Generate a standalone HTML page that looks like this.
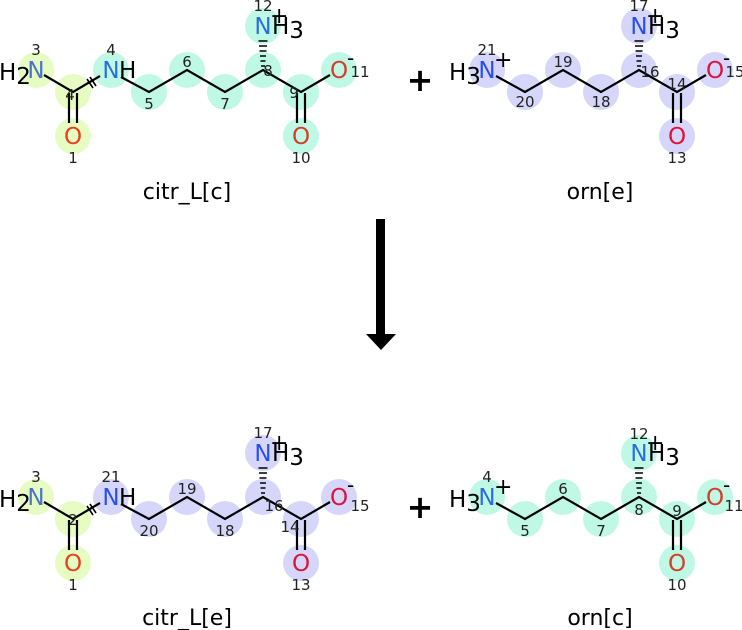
<!DOCTYPE html>
<html><head><meta charset="utf-8"><style>
html,body{margin:0;padding:0;background:#fff;}
svg{display:block;}
text{font-family:"DejaVu Sans","Liberation Sans",sans-serif;}
.n{font-size:15px;fill:#222;text-anchor:middle;}
.a{font-size:23px;text-anchor:middle;}
.h{font-size:23px;fill:#000;}
.b{stroke:#000;stroke-width:2.2;fill:none;}
.cap{font-size:22px;text-anchor:middle;fill:#000;}
</style></head><body>
<svg width="742" height="630" viewBox="0 0 742 630" xmlns="http://www.w3.org/2000/svg">
<!-- ===== TOP LEFT citr_L[c] ===== -->
<g>
<g fill="#e6fcc2"><circle cx="36" cy="70" r="18"/><circle cx="73" cy="92" r="18"/><circle cx="73" cy="136" r="18"/></g>
<g fill="#bff9e6"><circle cx="111" cy="70" r="18"/><circle cx="149" cy="92" r="18"/><circle cx="187" cy="70" r="18"/><circle cx="225" cy="92" r="18"/><circle cx="263" cy="70" r="18"/><circle cx="301" cy="92" r="18"/><circle cx="339" cy="70" r="18"/><circle cx="301" cy="136" r="18"/><circle cx="263" cy="26" r="18"/></g>
<path class="b" d="M44 75 L73 92 L100 76 M121 77 L149 92 L187 70 L225 92 L263 70 L301 92 L330 75 M69 93 V123 M77 93 V123 M297 93 V123 M305 93 V123"/>
<path stroke="#000" stroke-width="1.6" d="M87 79 L93 88 M90 77 L96 86"/>
<g stroke="#000" stroke-width="1.5"><line x1="261" y1="66" x2="265" y2="66"/><line x1="260.5" y1="61" x2="265.5" y2="61"/><line x1="260" y1="56" x2="266" y2="56"/><line x1="259.5" y1="51" x2="266.5" y2="51"/><line x1="259" y1="46" x2="267" y2="46"/><line x1="258.5" y1="41" x2="267.5" y2="41"/></g>
<text class="a" x="36" y="78" fill="#4a74cc">N</text><text class="h" x="-1" y="80">H<tspan dy="4">2</tspan></text>
<text class="a" x="111" y="78" fill="#2a6fe0">N</text><text class="h" x="119" y="78">H</text>
<text class="a" x="73" y="144" fill="#e8401c">O</text>
<text class="a" x="301" y="144" fill="#d0402a">O</text>
<text class="a" x="339" y="78" fill="#d0402a">O</text><text x="347" y="65" font-size="20" fill="#000">-</text>
<text class="a" x="263" y="34" fill="#2a6fe0">N</text><text class="h" x="272" y="34">H<tspan dy="4">3</tspan></text><text x="270" y="23" font-size="22" fill="#000">+</text>
<text class="n" x="36" y="55">3</text><text class="n" x="111" y="55">4</text><text class="n" x="70" y="100">4</text>
<text class="n" x="149" y="109">5</text><text class="n" x="187" y="67">6</text><text class="n" x="225" y="109">7</text>
<text class="n" x="268" y="76">8</text><text class="n" x="294" y="98">9</text><text class="n" x="360" y="77">11</text>
<text class="n" x="301" y="163">10</text><text class="n" x="73" y="163">1</text><text class="n" x="263" y="11">12</text>
</g>
<text class="cap" x="187" y="199">citr_L[c]</text>
<text x="420" y="91" font-size="32" font-weight="bold" text-anchor="middle">+</text>
<!-- ===== TOP RIGHT orn[e] ===== -->
<g>
<g fill="#d6d6fa"><circle cx="487" cy="70" r="18"/><circle cx="525" cy="92" r="18"/><circle cx="563" cy="70" r="18"/><circle cx="601" cy="92" r="18"/><circle cx="639" cy="70" r="18"/><circle cx="677" cy="92" r="18"/><circle cx="715" cy="70" r="18"/><circle cx="677" cy="136" r="18"/><circle cx="639" cy="26" r="18"/></g>
<path class="b" d="M496 76 L525 92 L563 70 L601 92 L639 70 L677 92 L706 75 M673 93 V123 M681 93 V123"/>
<g stroke="#000" stroke-width="1.5"><line x1="637" y1="66" x2="641" y2="66"/><line x1="636.5" y1="61" x2="641.5" y2="61"/><line x1="636" y1="56" x2="642" y2="56"/><line x1="635.5" y1="51" x2="642.5" y2="51"/><line x1="635" y1="46" x2="643" y2="46"/><line x1="634.5" y1="41" x2="643.5" y2="41"/></g>
<text class="a" x="487" y="78" fill="#2a4ff0">N</text><text class="h" x="449" y="80">H<tspan dy="4">3</tspan></text><text x="494" y="67" font-size="22" fill="#000">+</text>
<text class="a" x="677" y="144" fill="#dc143c">O</text>
<text class="a" x="715" y="78" fill="#dc143c">O</text><text x="723" y="65" font-size="20" fill="#000">-</text>
<text class="a" x="639" y="34" fill="#2a4ff0">N</text><text class="h" x="648" y="34">H<tspan dy="4">3</tspan></text><text x="646" y="23" font-size="22" fill="#000">+</text>
<text class="n" x="487" y="55">21</text><text class="n" x="525" y="107">20</text><text class="n" x="563" y="67">19</text>
<text class="n" x="601" y="107">18</text><text class="n" x="650" y="77">16</text><text class="n" x="677" y="89">14</text>
<text class="n" x="735" y="77">15</text><text class="n" x="677" y="163">13</text><text class="n" x="639" y="11">17</text>
</g>
<text class="cap" x="600" y="199">orn[e]</text>
<!-- arrow -->
<rect x="376" y="219" width="9" height="117" fill="#000"/>
<polygon points="366,334 396,334 381,350" fill="#000"/>
<!-- ===== BOTTOM LEFT citr_L[e] ===== -->
<g transform="translate(0,427)">
<g fill="#e6fcc2"><circle cx="36" cy="70" r="18"/><circle cx="73" cy="92" r="18"/><circle cx="73" cy="136" r="18"/></g>
<g fill="#d6d6fa"><circle cx="111" cy="70" r="18"/><circle cx="149" cy="92" r="18"/><circle cx="187" cy="70" r="18"/><circle cx="225" cy="92" r="18"/><circle cx="263" cy="70" r="18"/><circle cx="301" cy="92" r="18"/><circle cx="339" cy="70" r="18"/><circle cx="301" cy="136" r="18"/><circle cx="263" cy="26" r="18"/></g>
<path class="b" d="M44 75 L73 92 L100 76 M121 77 L149 92 L187 70 L225 92 L263 70 L301 92 L330 75 M69 93 V123 M77 93 V123 M297 93 V123 M305 93 V123"/>
<path stroke="#000" stroke-width="1.6" d="M87 79 L93 88 M90 77 L96 86"/>
<g stroke="#000" stroke-width="1.5"><line x1="261" y1="66" x2="265" y2="66"/><line x1="260.5" y1="61" x2="265.5" y2="61"/><line x1="260" y1="56" x2="266" y2="56"/><line x1="259.5" y1="51" x2="266.5" y2="51"/><line x1="259" y1="46" x2="267" y2="46"/><line x1="258.5" y1="41" x2="267.5" y2="41"/></g>
<text class="a" x="36" y="78" fill="#4a74cc">N</text><text class="h" x="-1" y="80">H<tspan dy="4">2</tspan></text>
<text class="a" x="111" y="78" fill="#2a4ff0">N</text><text class="h" x="119" y="78">H</text>
<text class="a" x="73" y="144" fill="#e8401c">O</text>
<text class="a" x="301" y="144" fill="#dc143c">O</text>
<text class="a" x="339" y="78" fill="#dc143c">O</text><text x="347" y="65" font-size="20" fill="#000">-</text>
<text class="a" x="263" y="34" fill="#2a4ff0">N</text><text class="h" x="272" y="34">H<tspan dy="4">3</tspan></text><text x="270" y="23" font-size="22" fill="#000">+</text>
<text class="n" x="36" y="55">3</text><text class="n" x="111" y="55">21</text><text class="n" x="73" y="98">2</text>
<text class="n" x="149" y="109">20</text><text class="n" x="187" y="67">19</text><text class="n" x="225" y="109">18</text>
<text class="n" x="274" y="84">16</text><text class="n" x="290" y="105">14</text><text class="n" x="360" y="84">15</text>
<text class="n" x="301" y="163">13</text><text class="n" x="73" y="163">1</text><text class="n" x="263" y="11">17</text>
</g>
<text class="cap" x="187" y="625">citr_L[e]</text>
<text x="420" y="518" font-size="32" font-weight="bold" text-anchor="middle">+</text>
<!-- ===== BOTTOM RIGHT orn[c] ===== -->
<g transform="translate(0,427)">
<g fill="#bff9e6"><circle cx="487" cy="70" r="18"/><circle cx="525" cy="92" r="18"/><circle cx="563" cy="70" r="18"/><circle cx="601" cy="92" r="18"/><circle cx="639" cy="70" r="18"/><circle cx="677" cy="92" r="18"/><circle cx="715" cy="70" r="18"/><circle cx="677" cy="136" r="18"/><circle cx="639" cy="26" r="18"/></g>
<path class="b" d="M496 76 L525 92 L563 70 L601 92 L639 70 L677 92 L706 75 M673 93 V123 M681 93 V123"/>
<g stroke="#000" stroke-width="1.5"><line x1="637" y1="66" x2="641" y2="66"/><line x1="636.5" y1="61" x2="641.5" y2="61"/><line x1="636" y1="56" x2="642" y2="56"/><line x1="635.5" y1="51" x2="642.5" y2="51"/><line x1="635" y1="46" x2="643" y2="46"/><line x1="634.5" y1="41" x2="643.5" y2="41"/></g>
<text class="a" x="487" y="78" fill="#2a6fe0">N</text><text class="h" x="449" y="80">H<tspan dy="4">3</tspan></text><text x="494" y="67" font-size="22" fill="#000">+</text>
<text class="a" x="677" y="144" fill="#d0402a">O</text>
<text class="a" x="715" y="78" fill="#d0402a">O</text><text x="723" y="65" font-size="20" fill="#000">-</text>
<text class="a" x="639" y="34" fill="#2a6fe0">N</text><text class="h" x="648" y="34">H<tspan dy="4">3</tspan></text><text x="646" y="23" font-size="22" fill="#000">+</text>
<text class="n" x="487" y="55">4</text><text class="n" x="525" y="109">5</text><text class="n" x="563" y="67">6</text>
<text class="n" x="601" y="109">7</text><text class="n" x="639" y="88">8</text><text class="n" x="677" y="89">9</text>
<text class="n" x="734" y="84">11</text><text class="n" x="677" y="163">10</text><text class="n" x="639" y="12">12</text>
</g>
<text class="cap" x="600" y="625">orn[c]</text>
</svg>
</body></html>
